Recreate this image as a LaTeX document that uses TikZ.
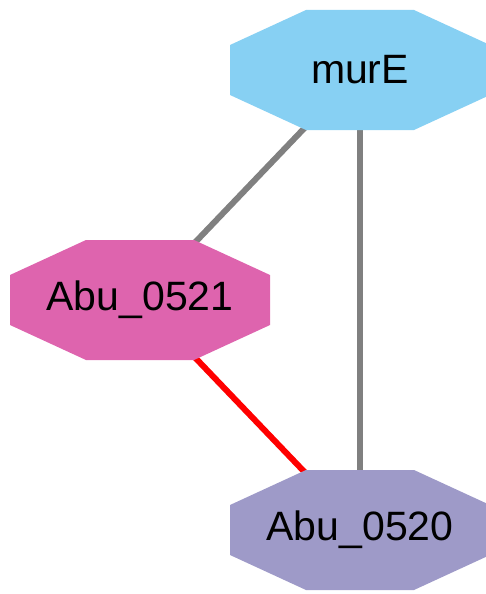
\documentclass[tikz,border=0pt]{standalone}
\usepackage{fontspec}
\setmainfont{Liberation Sans}
\usetikzlibrary{backgrounds}
\definecolor{murblue}{RGB}{135,208,243}
\definecolor{abupink}{RGB}{222,100,174}
\definecolor{abulilac}{RGB}{158,154,200}
\definecolor{edgegray}{RGB}{128,128,128}
\tikzset{
	octa/.style={rectangle, minimum width=260pt, minimum height=120pt, inner sep=0pt, draw=none,
		font=\fontsize{41}{44}\selectfont,
		path picture={\fill[#1] ([shift={(-130pt,25pt)}]path picture bounding box.center)
			-- ([shift={(-54pt,60pt)}]path picture bounding box.center)
			-- ([shift={(54pt,60pt)}]path picture bounding box.center)
			-- ([shift={(130pt,25pt)}]path picture bounding box.center)
			-- ([shift={(130pt,-25pt)}]path picture bounding box.center)
			-- ([shift={(54pt,-60pt)}]path picture bounding box.center)
			-- ([shift={(-54pt,-60pt)}]path picture bounding box.center)
			-- ([shift={(-130pt,-25pt)}]path picture bounding box.center) -- cycle;}},
	link/.style={line width=6pt, edgegray},
	redlink/.style={line width=6pt, red}
}

\begin{document}
\begin{tikzpicture}[x=1pt, y=-1pt]
				\useasboundingbox (0,0) rectangle (486,594);
				
				\node[octa=murblue] (murE) at (360,70) {murE};
				\node[octa=abupink] (a0521) at (140,300) {Abu\_0521};
				\node[octa=abulilac] (a0520) at (360,530) {Abu\_0520};
				
				\begin{pgfonlayer}{background}
				\draw[link] (murE.center) -- (a0521.center);
				\draw[link] (murE.center) -- (a0520.center);
				\draw[redlink] (a0521.center) -- (a0520.center);
				\end{pgfonlayer}
			\end{tikzpicture}
\end{document}
